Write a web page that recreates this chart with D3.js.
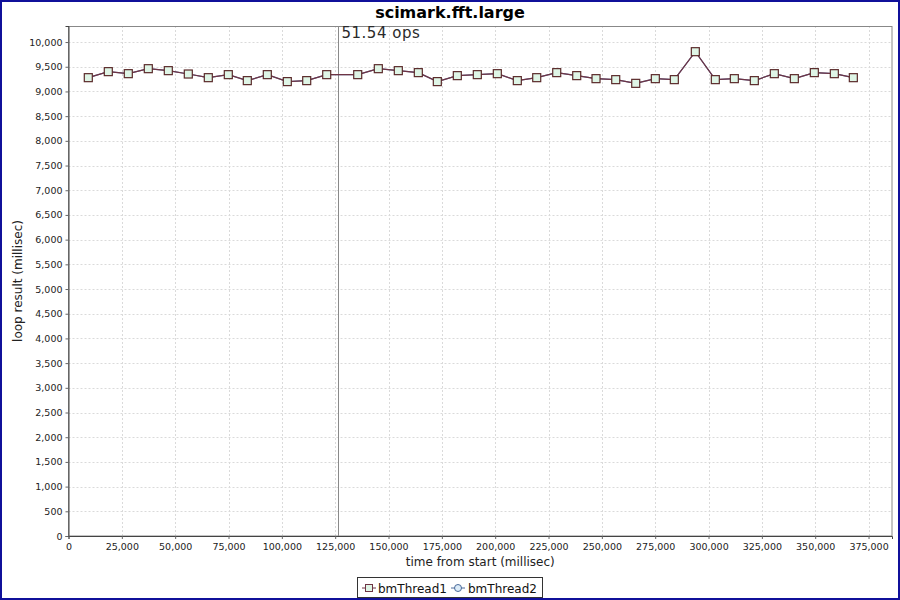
<!DOCTYPE html>
<html><head><meta charset="utf-8">
<script src="https://cdn.jsdelivr.net/npm/d3@7"></script>
<style>body{margin:0;background:#fff}</style>
</head><body><svg id="c" width="900" height="600"></svg>
<script>
const title = "scimark.fft.large";
const xLabel = "time from start (millisec)";
const yLabel = "loop result (millisec)";
const seriesNames = ["bmThread1", "bmThread2"];
const timeMs = [9281,18656,28031,37406,46781,56156,65531,74906,83813,93188,102563,111656,121031,
  135563,145219,154594,163969,172875,182250,191625,201000,210375,219469,228844,238219,247266,256500,265875,
  275063,283969,293813,303188,312094,321469,330844,340219,349594,358969,367875];
const thread1 = [9279,9401,9360,9461,9421,9353,9279,9340,9219,9340,9199,9219,9340,
  9340,9461,9421,9381,9199,9320,9340,9360,9219,9279,9381,9320,9259,9239,9164,
  9259,9239,9805,9239,9259,9219,9360,9259,9381,9360,9279];
const thread2 = [9279,9401,9360,9461,9421,9353,9279,9340,9219,9340,9199,9219,9340,
  9340,9461,9421,9381,9199,9320,9340,9360,9219,9279,9381,9320,9259,9239,9164,
  9259,9239,9805,9239,9259,9219,9360,9259,9381,9360,9279];
const markerX = 126100;
const markerLabel = "51.54 ops";
const xTicks = [0,25000,50000,75000,100000,125000,150000,175000,200000,225000,250000,275000,300000,325000,350000,375000];
const yTicks = [0,500,1000,1500,2000,2500,3000,3500,4000,4500,5000,5500,6000,6500,7000,7500,8000,8500,9000,9500,10000];

const svg = d3.select("#c");
const L = 68.5, R = 892, T = 26, B = 536;
const x = d3.scaleLinear().domain([0, 386000]).range([L, R]);
const y = d3.scaleLinear().domain([0, 10325]).range([B, T]);
const fmt = d3.format(",");
const font = "DejaVu Sans, sans-serif";

svg.append("rect").attr("x",1).attr("y",1).attr("width",898).attr("height",598)
  .attr("fill","#fff").attr("stroke","#10109a").attr("stroke-width",2);

// grid
const g = svg.append("g");
g.selectAll(".gx").data(xTicks.filter(d=>d>0)).join("line")
  .attr("x1",d=>Math.round(x(d))+0.5).attr("x2",d=>Math.round(x(d))+0.5).attr("y1",T).attr("y2",B)
  .attr("stroke","#dadada").attr("stroke-dasharray","2,2");
g.selectAll(".gy").data(yTicks.filter(d=>d>0)).join("line")
  .attr("y1",d=>Math.round(y(d))+0.5).attr("y2",d=>Math.round(y(d))+0.5).attr("x1",L).attr("x2",R)
  .attr("stroke","#dadada").attr("stroke-dasharray","2,2");

// plot border
svg.append("rect").attr("x",L).attr("y",T+0.5).attr("width",R-L).attr("height",B-T-0.5)
  .attr("fill","none").attr("stroke","#888");

// axes
const xa = svg.append("g").attr("transform",`translate(0,${B})`)
  .call(d3.axisBottom(x).tickValues(xTicks).tickFormat(fmt).tickSizeOuter(0).tickSize(3).tickPadding(4));
const ya = svg.append("g").attr("transform",`translate(${L},0)`)
  .call(d3.axisLeft(y).tickValues(yTicks).tickFormat(fmt).tickSizeOuter(0).tickSize(3).tickPadding(3));
[xa,ya].forEach(a=>{
  a.select(".domain").attr("stroke","#444");
  a.selectAll(".tick line").attr("stroke","#666");
  a.selectAll("text").attr("font-family",font).attr("font-size","9.5px").attr("fill","#222");
});

// marker
svg.append("line").attr("x1",Math.round(x(markerX))+0.5).attr("x2",Math.round(x(markerX))+0.5)
  .attr("y1",T).attr("y2",B).attr("stroke","#8a8a8a").attr("stroke-width",1);
svg.append("text").attr("x",x(markerX)+4).attr("y",38).text(markerLabel)
  .attr("font-family",font).attr("font-size","15px").attr("font-weight","500").attr("fill","#2a2a2a").attr("letter-spacing","0.5px");

// series
const line = d3.line().x((d,i)=>x(timeMs[i])).y(d=>y(d));
svg.append("path").datum(thread2).attr("d",line).attr("fill","none").attr("stroke","#5a6a9a").attr("stroke-width",1.2);
svg.append("path").datum(thread1).attr("d",line).attr("fill","none").attr("stroke","#6e3444").attr("stroke-width",1.2);
svg.selectAll(".m").data(thread1).join("rect")
  .attr("x",(d,i)=>x(timeMs[i])-4).attr("y",d=>y(d)-4).attr("width",8).attr("height",8)
  .attr("fill","#dff5e6").attr("stroke","#5a2a2a").attr("stroke-width",1.2);

// title & labels
svg.append("text").attr("x",450).attr("y",18).attr("text-anchor","middle").text(title)
  .attr("font-family",font).attr("font-weight","bold").attr("font-size","16px").attr("fill","#000");
svg.append("text").attr("x",(L+R)/2).attr("y",566).attr("text-anchor","middle").text(xLabel)
  .attr("font-family",font).attr("font-size","12px").attr("fill","#222");
svg.append("text").attr("transform",`translate(22,${(T+B)/2}) rotate(-90)`).attr("text-anchor","middle").text(yLabel)
  .attr("font-family",font).attr("font-size","12px").attr("fill","#222");

// legend
const lg = svg.append("g");
lg.append("rect").attr("x",357.5).attr("y",577.5).attr("width",185).attr("height",20).attr("fill","#fff").attr("stroke","#333");
lg.append("line").attr("x1",362).attr("x2",376).attr("y1",588).attr("y2",588).attr("stroke","#6e3444");
lg.append("rect").attr("x",365.5).attr("y",584.5).attr("width",7).attr("height",7).attr("fill","#dff5e6").attr("stroke","#6e3444");
lg.append("text").attr("x",378).attr("y",592.5).text(seriesNames[0]).attr("font-family",font).attr("font-size","12px").attr("fill","#111");
lg.append("line").attr("x1",451).attr("x2",465).attr("y1",588).attr("y2",588).attr("stroke","#4a6a9a");
lg.append("circle").attr("cx",458).attr("cy",588).attr("r",3.5).attr("fill","#dcecf8").attr("stroke","#4a6a9a");
lg.append("text").attr("x",468).attr("y",592.5).text(seriesNames[1]).attr("font-family",font).attr("font-size","12px").attr("fill","#111");
</script></body></html>
